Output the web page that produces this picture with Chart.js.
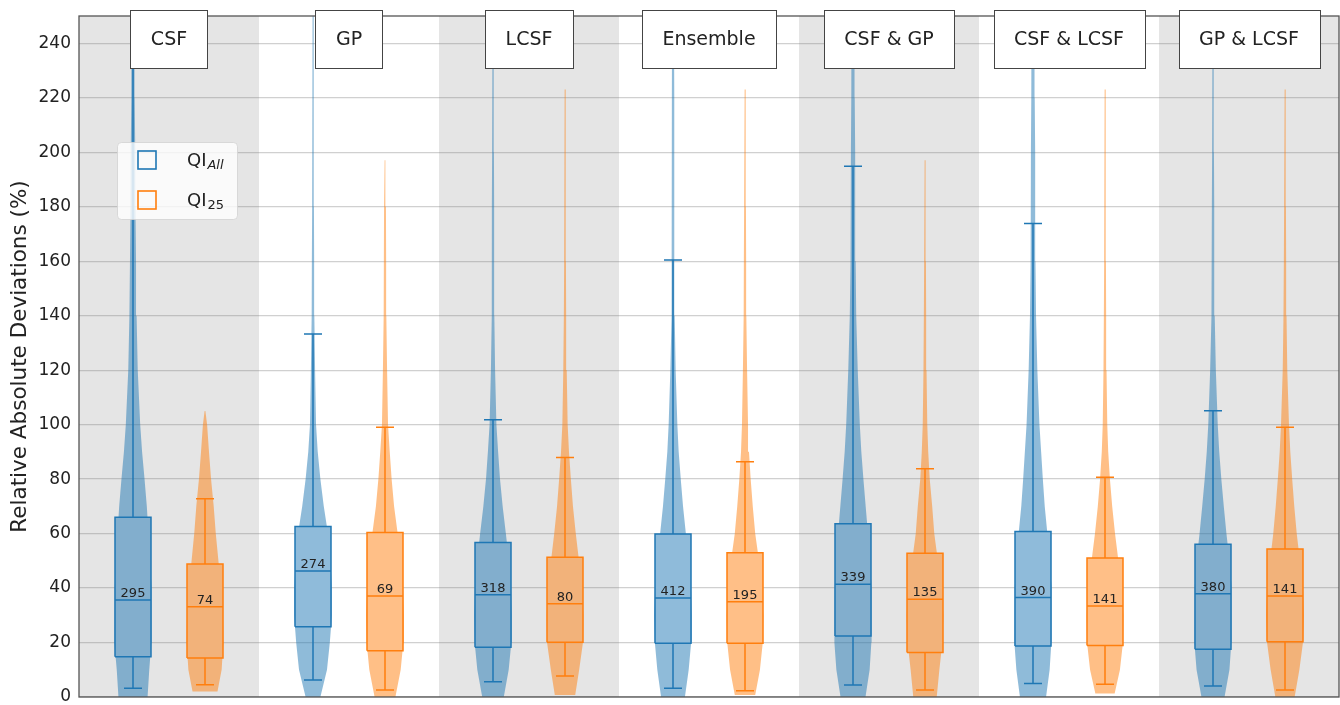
<!DOCTYPE html>
<html>
<head>
<meta charset="utf-8">
<script src="https://cdn.jsdelivr.net/npm/chart.js@4.4.1/dist/chart.umd.min.js"></script>
<style>
html,body{margin:0;padding:0;background:#ffffff;}
#wrap{width:1340px;height:705px;position:relative;}
</style>
</head>
<body>
<div id="wrap"><canvas id="c"></canvas></div>
<script>
// ---------------- DATA ----------------
const categories = ['CSF', 'GP', 'LCSF', 'Ensemble', 'CSF & GP', 'CSF & LCSF', 'GP & LCSF'];
const legendMain = ['QI', 'QI'];
const legendSub = ['All', '25'];
const yTicks = [0, 20, 40, 60, 80, 100, 120, 140, 160, 180, 200, 220, 240];

// violin density profiles (relative, 1 = widest) at these value levels
const levels = [0, 10, 20, 30, 40, 50, 60, 70, 80, 90, 100, 120, 140, 160, 180, 200, 220, 250];
const densityAll = [
  [0.77,0.86,0.97,1,0.97,0.89,0.82,0.73,0.61,0.48,0.38,0.25,0.19,0.16,0.13,0.12,0.09,0.08],
  [0.39,0.74,0.89,1,1,0.92,0.79,0.57,0.39,0.25,0.16,0.11,0.07,0.06,0.05,0.05,0.04,0.04],
  [0.57,0.83,0.97,1,0.95,0.84,0.68,0.51,0.37,0.27,0.18,0.11,0.07,0.06,0.06,0.05,0.05,0.04],
  [0.63,0.83,0.96,1,0.95,0.82,0.68,0.53,0.41,0.30,0.23,0.14,0.09,0.08,0.07,0.06,0.06,0.05],
  [0.66,0.88,0.97,1,0.97,0.89,0.79,0.67,0.55,0.44,0.36,0.25,0.17,0.14,0.12,0.11,0.09,0.08],
  [0.69,0.88,0.97,1,0.97,0.87,0.76,0.62,0.52,0.43,0.34,0.23,0.16,0.13,0.12,0.11,0.09,0.08],
  [0.61,0.87,0.97,1,0.97,0.87,0.71,0.57,0.44,0.33,0.25,0.15,0.09,0.07,0.06,0.05,0.05,0.04]
];
const densityQ25 = [
  [0.66,0.88,0.97,0.95,0.84,0.71,0.57,0.46,0.32,0.21,0.11,null,null,null,null,null,null,null],
  [0.55,0.83,0.97,1,0.95,0.82,0.67,0.48,0.35,0.25,0.16,0.11,0.07,0.06,0.05,null,null,null],
  [0.54,0.75,0.95,0.97,0.89,0.74,0.57,0.42,0.31,0.21,0.14,0.09,0.06,0.05,0.05,0.04,0.04,null],
  [0.54,0.79,0.94,0.97,0.89,0.74,0.54,0.41,0.30,0.21,0.16,0.11,0.07,0.06,0.05,0.05,0.04,null],
  [0.62,0.76,0.92,0.97,0.89,0.68,0.49,0.38,0.25,0.17,0.12,0.08,0.06,0.05,0.04,null,null,null],
  [0.51,0.79,0.95,0.97,0.89,0.71,0.53,0.38,0.26,0.17,0.12,0.08,0.06,0.05,0.05,0.04,0.04,null],
  [0.51,0.76,0.95,1,0.95,0.79,0.62,0.49,0.38,0.28,0.21,0.12,0.08,0.06,0.05,0.05,0.04,null]
];
const violinLowAll = [0, 0, 0, 0, 0, 0, 0];
const violinHighAll = [262, 262, 262, 262, 262, 262, 262];
const violinLowQ25 = [2.0, 0, 0.7, 0.7, 0, 1.3, 0];
const violinHighQ25 = [105, 197, 223, 223, 197, 223, 223];

// box plot statistics
const q1All = [14.8, 25.8, 18.3, 19.7, 22.4, 18.7, 17.5];
const medAll = [35.6, 46.3, 37.5, 36.3, 41.4, 36.5, 37.9];
const q3All = [66.0, 62.6, 56.7, 59.8, 63.6, 60.8, 56.1];
const whiskerLowAll = [3.2, 6.2, 5.6, 3.2, 4.4, 5.0, 4.0];
const whiskerHighAll = [262, 133.3, 101.8, 160.4, 194.8, 173.8, 105.1];
const countAll = [295, 274, 318, 412, 339, 390, 380];

const q1Q25 = [14.3, 17.0, 20.1, 19.7, 16.3, 18.9, 20.3];
const medQ25 = [33.1, 37.1, 34.2, 35.0, 35.9, 33.4, 37.1];
const q3Q25 = [48.8, 60.4, 51.3, 53.0, 52.8, 51.0, 54.3];
const whiskerLowQ25 = [4.5, 2.6, 7.7, 2.3, 2.6, 4.7, 2.6];
const whiskerHighQ25 = [72.8, 99.0, 87.9, 86.4, 83.8, 80.7, 99.0];
const countQ25 = [74, 69, 80, 195, 135, 141, 141];

// ---------------- STYLE ----------------
const seriesColors = ['#1f77b4', '#ff7f0e'];
const seriesOffsets = [-0.2, 0.2];
const VIOLIN_HALF = 0.105;
const TIP = 0.02;
const BOX_HALF = 0.1;
const CAP_HALF = 0.05;
const BAND_GRAY = '#e5e5e5';
const BAND_WHITE = '#ffffff';
const FONT = "'DejaVu Sans', sans-serif";

function hexRgb(h) { h = h.replace('#',''); return [parseInt(h.slice(0,2),16), parseInt(h.slice(2,4),16), parseInt(h.slice(4,6),16)]; }
function rgba(h, a) { const c = hexRgb(h); return `rgba(${c[0]},${c[1]},${c[2]},${a})`; }
function blend(h, bg, a) { const c = hexRgb(h), b = hexRgb(bg); return `rgb(${c.map((v,i)=>Math.round(v*a + b[i]*(1-a))).join(',')})`; }
function bandColor(i) { return i % 2 === 0 ? BAND_GRAY : BAND_WHITE; }

function violinPoints(cx, dens, lo, hi) {
  const pts = [];
  levels.forEach((lv, i) => {
    const d = dens[i];
    if (d === null || d === undefined) return;
    const v = i === 0 ? lo : lv;
    if (v >= hi) return;
    pts.push([v, d]);
  });
  pts.push([hi, TIP]);
  const right = pts.map(([v, d]) => ({x: cx + d * VIOLIN_HALF, y: v}));
  const left = pts.slice().reverse().map(([v, d]) => ({x: cx - d * VIOLIN_HALF, y: v}));
  return right.concat(left, [right[0]]);
}

const series = [
  {dens: densityAll, lo: violinLowAll, hi: violinHighAll, q1: q1All, med: medAll, q3: q3All, wlo: whiskerLowAll, whi: whiskerHighAll, n: countAll},
  {dens: densityQ25, lo: violinLowQ25, hi: violinHighQ25, q1: q1Q25, med: medQ25, q3: q3Q25, wlo: whiskerLowQ25, whi: whiskerHighQ25, n: countQ25}
];

const datasets = [];
series.forEach((s, si) => {
  const col = seriesColors[si];
  const whisk = [], meds = [];
  categories.forEach((c, gi) => {
    const cx = gi + seriesOffsets[si];
    datasets.push({
      data: violinPoints(cx, s.dens[gi], s.lo[gi], s.hi[gi]),
      fill: 'shape', backgroundColor: rgba(col, 0.5),
      borderColor: 'rgba(0,0,0,0)', borderWidth: 0, pointRadius: 0, tension: 0, order: 10
    });
    datasets.push({
      data: [
        {x: cx - BOX_HALF, y: s.q1[gi]}, {x: cx + BOX_HALF, y: s.q1[gi]},
        {x: cx + BOX_HALF, y: s.q3[gi]}, {x: cx - BOX_HALF, y: s.q3[gi]},
        {x: cx - BOX_HALF, y: s.q1[gi]}
      ],
      fill: 'shape', backgroundColor: blend(col, bandColor(gi), 0.5),
      borderColor: col, borderWidth: 1.5, borderJoinStyle: 'miter', pointRadius: 0, tension: 0, order: 6
    });
    whisk.push({x: cx, y: s.wlo[gi]}, {x: cx, y: s.whi[gi]}, {x: cx, y: null},
      {x: cx - CAP_HALF, y: s.wlo[gi]}, {x: cx + CAP_HALF, y: s.wlo[gi]}, {x: cx, y: null},
      {x: cx - CAP_HALF, y: s.whi[gi]}, {x: cx + CAP_HALF, y: s.whi[gi]}, {x: cx, y: null});
    meds.push({x: cx - BOX_HALF, y: s.med[gi]}, {x: cx + BOX_HALF, y: s.med[gi]}, {x: cx, y: null});
  });
  datasets.push({data: whisk, fill: false, borderColor: col, borderWidth: 1.5, pointRadius: 0, spanGaps: false, order: 8});
  datasets.push({data: meds, fill: false, borderColor: col, borderWidth: 1.5, pointRadius: 0, spanGaps: false, order: 4});
});

// ---------------- PLUGIN ----------------
const decor = {
  id: 'decor',
  beforeDraw(chart) {
    const {ctx, chartArea: a, scales: {x}} = chart;
    ctx.save();
    categories.forEach((c, i) => {
      const l = x.getPixelForValue(i - 0.5), r = x.getPixelForValue(i + 0.5);
      ctx.fillStyle = bandColor(i);
      ctx.fillRect(l, a.top, r - l, a.bottom - a.top);
    });
    ctx.restore();
  },
  afterDraw(chart) {
    const {ctx, chartArea: a, scales: {x, y}} = chart;
    ctx.save();
    // frame
    ctx.strokeStyle = '#555';
    ctx.lineWidth = 1.3;
    ctx.strokeRect(a.left, a.top, a.right - a.left, a.bottom - a.top);
    // counts
    ctx.fillStyle = '#222';
    ctx.font = `13px ${FONT}`;
    ctx.textAlign = 'center';
    ctx.textBaseline = 'alphabetic';
    series.forEach((s, si) => {
      categories.forEach((c, gi) => {
        ctx.fillText(String(s.n[gi]), x.getPixelForValue(gi + seriesOffsets[si]), y.getPixelForValue(s.med[gi]) - 3);
      });
    });
    // group labels
    ctx.font = `19px ${FONT}`;
    ctx.textBaseline = 'middle';
    categories.forEach((c, gi) => {
      const cx = x.getPixelForValue(gi);
      const w = ctx.measureText(c).width + 41;
      const top = a.top - 6, h = 58;
      ctx.fillStyle = '#ffffff';
      ctx.fillRect(Math.round(cx - w / 2) + 0.5, top + 0.5, Math.round(w), h);
      ctx.strokeStyle = '#444';
      ctx.lineWidth = 1;
      ctx.strokeRect(Math.round(cx - w / 2) + 0.5, top + 0.5, Math.round(w), h);
      ctx.fillStyle = '#222';
      ctx.fillText(c, cx, top + h / 2 + 1);
    });
    // legend
    const lx = a.left + 38, ly = a.top + 126, lw = 120, lh = 77;
    ctx.beginPath();
    ctx.roundRect(lx + 0.5, ly + 0.5, lw, lh, 4);
    ctx.fillStyle = 'rgba(255,255,255,0.8)';
    ctx.fill();
    ctx.strokeStyle = 'rgba(210,210,210,0.8)';
    ctx.lineWidth = 1;
    ctx.stroke();
    ctx.textAlign = 'left';
    ctx.textBaseline = 'alphabetic';
    seriesColors.forEach((col, si) => {
      const rowY = ly + 9 + si * 40;
      ctx.strokeStyle = col;
      ctx.lineWidth = 1.6;
      ctx.strokeRect(lx + 21, rowY, 18, 18);
      ctx.fillStyle = '#222';
      ctx.font = `18px ${FONT}`;
      const tx = lx + 70, by = rowY + 14.5;
      ctx.fillText(legendMain[si], tx, by);
      const mw = ctx.measureText(legendMain[si]).width;
      ctx.font = (si === 0 ? 'italic ' : '') + `13px ${FONT}`;
      ctx.fillText(legendSub[si], tx + mw + 1, by + 3);
    });
    ctx.restore();
  }
};

new Chart(document.getElementById('c'), {
  type: 'line',
  data: {datasets},
  options: {
    responsive: true,
    maintainAspectRatio: false,
    animation: false,
    events: [],
    layout: {padding: {top: 16, right: 1, bottom: 8, left: 0}},
    plugins: {legend: {display: false}, tooltip: {enabled: false}},
    scales: {
      x: {type: 'linear', min: -0.5, max: 6.5, display: false},
      y: {
        type: 'linear', min: 0, max: 250, z: 1,
        afterFit(s) { s.width = 79; s.paddingTop = 0; s.paddingBottom = 0; },
        afterBuildTicks(s) { s.ticks = yTicks.map(v => ({value: v})); },
        ticks: {font: {family: FONT, size: 17}, color: '#222', padding: 8},
        grid: {color: 'rgba(120,120,120,0.35)', lineWidth: 1.2, drawTicks: false},
        border: {display: false},
        title: {display: true, text: 'Relative Absolute Deviations (%)', font: {family: FONT, size: 21.5}, color: '#222', padding: {top: 8, bottom: 0}}
      }
    }
  },
  plugins: [decor]
});
</script>
</body>
</html>
